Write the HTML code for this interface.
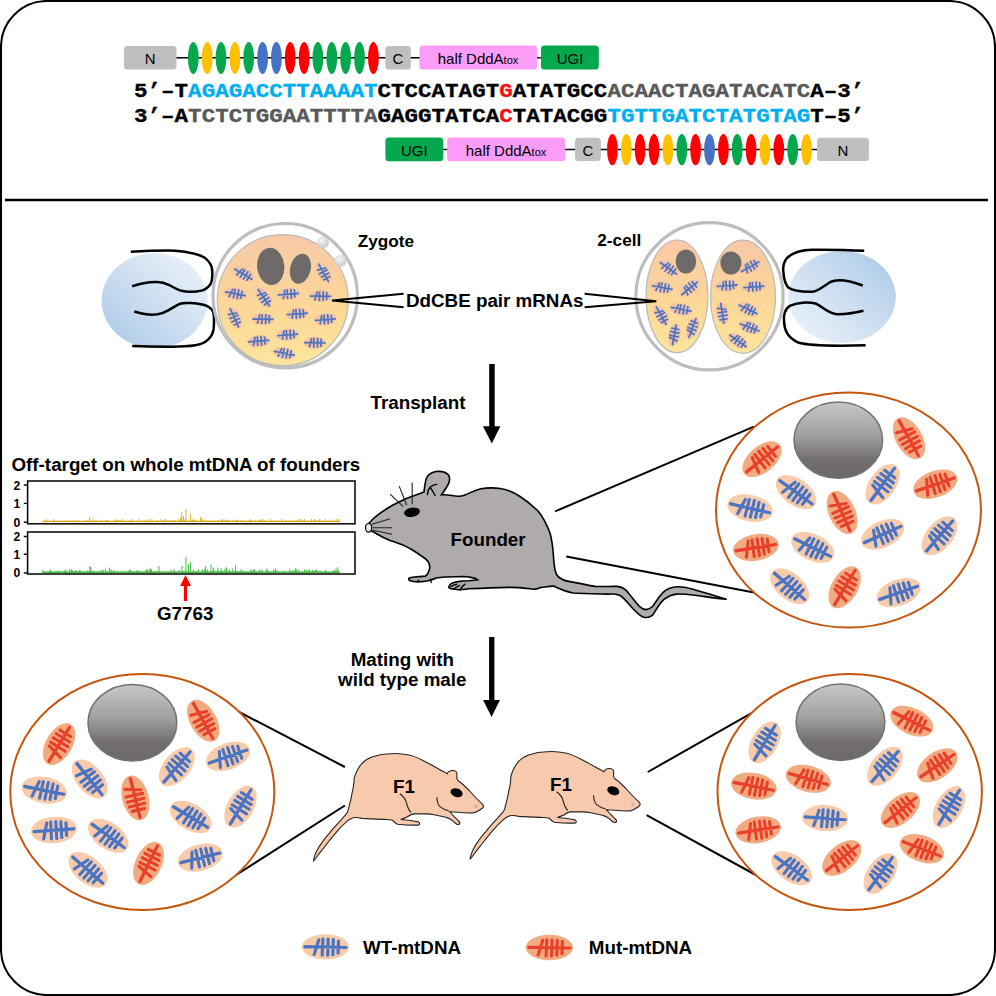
<!DOCTYPE html>
<html><head><meta charset="utf-8"><title>DdCBE mtDNA editing</title>
<style>
html,body{margin:0;padding:0;background:#fff;width:996px;height:996px;overflow:hidden}
svg{display:block}
text{font-family:"Liberation Sans",sans-serif}
.b{font-weight:bold}
.dna{font-family:"Liberation Mono",monospace;font-weight:bold;font-size:22.55px;stroke-width:0.35px}
.lbl{font-weight:bold;font-size:18.8px}
</style></head>
<body>
<svg width="996" height="996" viewBox="0 0 996 996">
<defs>
  <linearGradient id="gNuc" x1="0" y1="0" x2="0" y2="1">
    <stop offset="0" stop-color="#c8c7c7"/>
    <stop offset="0.45" stop-color="#a19e9e"/>
    <stop offset="0.75" stop-color="#736f6f"/>
    <stop offset="1" stop-color="#6d6969"/>
  </linearGradient>
  <linearGradient id="gCyto" x1="0" y1="0" x2="0" y2="1">
    <stop offset="0" stop-color="#f8c8a6"/>
    <stop offset="0.55" stop-color="#fbd898"/>
    <stop offset="1" stop-color="#fde59c"/>
  </linearGradient>
  <linearGradient id="gPipL" x1="0" y1="1" x2="1" y2="0">
    <stop offset="0" stop-color="#a9c7e7"/>
    <stop offset="1" stop-color="#f1f6fb"/>
  </linearGradient>
  <linearGradient id="gPipR" x1="0" y1="1" x2="1" y2="0">
    <stop offset="0" stop-color="#f1f6fb"/>
    <stop offset="1" stop-color="#a9c7e7"/>
  </linearGradient>
  <radialGradient id="gPolar" cx="0.4" cy="0.35" r="0.7">
    <stop offset="0" stop-color="#f6f6f6"/>
    <stop offset="1" stop-color="#c6c6c6"/>
  </radialGradient>
  <path id="fb" d="M-20,-0.3 L20,0.6 M-20,0 L-6,0.2 M-11,8 L-6.5,-7.5 M-2.5,-8.2 L-3.2,8.8 M2.6,-8.2 L2.1,8.8 M7.6,-7.6 L7.2,8.2 M12.6,-6.2 L12.2,6.5" fill="none" stroke-linecap="round"/>
  <g id="wt"><ellipse rx="23" ry="13.2" fill="#f8cbab"/><use href="#fb" stroke="#4a74c2" stroke-width="3.1"/></g>
  <g id="mut"><ellipse rx="23" ry="13.2" fill="#f2aa80"/><use href="#fb" stroke="#e8402a" stroke-width="3.1"/></g>
  <path id="fbs" d="M-20,0 L20,0.5 M-11,8 L-6.5,-8 M-1.8,-8.5 L-2.4,8.5 M5.6,-8.5 L5.2,8.5 M12.6,-7 L12.2,7" fill="none" stroke-linecap="round"/>
  <g id="zw"><ellipse rx="22.5" ry="12" fill="#f6c2a6"/><use href="#fbs" stroke="#4a74c2" stroke-width="3.5"/></g>
  <path id="f1" d="M354.1,778.6 C357,768 363,760 372,757 C379,754.5 385,753.6 391,753.7 C398,752.8 404,754 410.3,755.3 C417,757 424,761 429.6,764.1 C436,767.5 442,771 447.3,773.7 C448,771.5 450,770.3 453.7,770.5 C456,771 457.5,772.5 456.9,775 L456.9,778.6 C457.5,780 458,780.5 458.5,781 C463,784 467,788 471.4,793 C475,797 479,801 482.6,804.3 C484,806 483.5,807.5 482,808.5 C479,810.5 477,812 474.6,812.6 C469,813.4 464,812.9 458.5,812.3 C455,811.9 452,811.7 449.5,811.7 C451,813 452,814.3 453,815.5 C454.5,817 456,818.5 457.2,819.7 C458.5,821 459.7,821.8 459.8,822.6 C460,823.6 459.5,824.3 458.7,824.4 C457.8,824.5 457,824.3 456.5,824 C455,823 454,822 453,821.1 C452,820.3 451.2,819.6 450.2,819 C449,818.3 448,818 446.7,817.6 C445,817 443,816.6 441.1,816.2 C438.5,815.6 436.5,815.2 434.1,814.8 C431.5,814.4 429,814.1 426.4,813.9 C421,813.9 417,813.9 413.5,813.9 C410,814.5 408.5,816 407.1,817.1 C405,818 403,818.8 400.7,819.5 C406,820 412,820.6 418.4,821.9 C420,823 420,824.5 418.4,825.1 C411,825.3 404,825 397.5,824.3 C395,823 393.7,821.5 392.7,820.3 C390.5,819.8 388.5,819.6 386.2,819.5 C378,819 370,818.8 362.1,818.4 C358.5,817.6 355.5,817.4 353.2,817.7 C351,818.5 349,819.6 347.2,821.2 C343,825 340,828 337.1,831.3 C333,836 330.5,839 328.1,842.3 C325,846.5 322.5,849.5 320.1,852.4 C317.5,856 315.5,859 313.5,860.9 C313.8,857.5 315,855 316,852.4 C318,848 320,845 322.1,842.3 C325,838 327.5,835.5 330.1,832.3 C333,828.5 335.5,826 338.1,823.2 C341,820 343.8,817 346.2,814.2 C347.3,812.8 347.9,811.5 348.2,810.2 C349,806 350,803 350.7,800.1 C351.5,796 352.2,792 353.2,788.1 C353.8,784 354.2,781 354.1,778.6 Z"/>
  <g id="f1g">
    <use href="#f1" fill="#f7caae" stroke="#222" stroke-width="1.1"/>
    <path d="M399.9,793.8 C403,796 405.5,799 406.5,803 C407.5,807 408.5,810 411,812.5 M436.9,797.2 C437,801.5 437.8,804.5 440,806.6 C442.5,808.8 445.5,810 448.6,810.8" fill="none" stroke="#222" stroke-width="1.1"/>
    <ellipse cx="456.6" cy="792.8" rx="6.3" ry="4.2" transform="rotate(20 456.6 792.8)" fill="#000"/>
    <path d="M474.5,806 l2.5,-1.2 M475,807.6 l2.7,-0.8" stroke="#888" stroke-width="0.6"/>
  </g>
</defs>

<!-- frame -->
<rect x="1" y="1" width="994" height="994" rx="46" ry="46" fill="#fff" stroke="#000" stroke-width="2.1"/>
<line x1="5" y1="200" x2="988" y2="200" stroke="#000" stroke-width="2.6"/>

<!-- ===== TOP CONSTRUCTS ===== -->
<g id="constructTop">
  <line x1="176" y1="57.8" x2="420" y2="57.8" stroke="#000" stroke-width="1.4"/>
  <line x1="536" y1="57.8" x2="542" y2="57.8" stroke="#000" stroke-width="1.4"/>
  <rect x="124" y="46" width="52.5" height="23.6" rx="3.5" fill="#bfbfbf"/>
  <text x="150.2" y="64.3" font-size="15" text-anchor="middle">N</text>
  <g><ellipse cx="193.3" cy="57.9" rx="5.4" ry="16" fill="#06a84e"/><ellipse cx="207.2" cy="57.9" rx="5.4" ry="16" fill="#ffc000"/><ellipse cx="221.0" cy="57.9" rx="5.4" ry="16" fill="#06a84e"/><ellipse cx="234.9" cy="57.9" rx="5.4" ry="16" fill="#ffc000"/><ellipse cx="248.7" cy="57.9" rx="5.4" ry="16" fill="#06a84e"/><ellipse cx="262.6" cy="57.9" rx="5.4" ry="16" fill="#4472c4"/><ellipse cx="276.4" cy="57.9" rx="5.4" ry="16" fill="#4472c4"/><ellipse cx="290.2" cy="57.9" rx="5.4" ry="16" fill="#ff0000"/><ellipse cx="304.1" cy="57.9" rx="5.4" ry="16" fill="#ff0000"/><ellipse cx="317.9" cy="57.9" rx="5.4" ry="16" fill="#06a84e"/><ellipse cx="331.8" cy="57.9" rx="5.4" ry="16" fill="#06a84e"/><ellipse cx="345.6" cy="57.9" rx="5.4" ry="16" fill="#06a84e"/><ellipse cx="359.5" cy="57.9" rx="5.4" ry="16" fill="#06a84e"/><ellipse cx="373.4" cy="57.9" rx="5.4" ry="16" fill="#ff0000"/></g>
  <rect x="385.3" y="46" width="25.5" height="23.6" rx="3.5" fill="#bfbfbf"/>
  <text x="398" y="64.3" font-size="15" text-anchor="middle">C</text>
  <rect x="419.5" y="45.6" width="117.6" height="24" rx="3.5" fill="#fb9df8"/>
  <text x="478" y="64.2" font-size="15" text-anchor="middle">half DddA<tspan font-size="11">tox</tspan></text>
  <rect x="541" y="45.6" width="57.8" height="24" rx="3.5" fill="#06a84e"/>
  <text x="570" y="64.3" font-size="15" text-anchor="middle">UGI</text>
</g>

<text class="dna" x="134" y="0" transform="translate(0,96.7) scale(1,0.91)"><tspan fill="#000" stroke="#000">5’–T</tspan><tspan fill="#00aeef" stroke="#00aeef">AGAGACCTTAAAAT</tspan><tspan fill="#000" stroke="#000">CTCCATAGT</tspan><tspan fill="#f20f0f" stroke="#f20f0f">G</tspan><tspan fill="#000" stroke="#000">ATATGCC</tspan><tspan fill="#595959" stroke="#595959">ACAACTAGATACATC</tspan><tspan fill="#000" stroke="#000">A–3’</tspan></text>
<text class="dna" x="134" y="0" transform="translate(0,122) scale(1,0.91)"><tspan fill="#000" stroke="#000">3’–A</tspan><tspan fill="#595959" stroke="#595959">TCTCTGGAATTTTA</tspan><tspan fill="#000" stroke="#000">GAGGTATCA</tspan><tspan fill="#f20f0f" stroke="#f20f0f">C</tspan><tspan fill="#000" stroke="#000">TATACGG</tspan><tspan fill="#00aeef" stroke="#00aeef">TGTTGATCTATGTAG</tspan><tspan fill="#000" stroke="#000">T–5’</tspan></text>

<g id="constructBot">
  <line x1="443" y1="149.5" x2="448" y2="149.5" stroke="#000" stroke-width="1.4"/>
  <line x1="565" y1="149.5" x2="818" y2="149.5" stroke="#000" stroke-width="1.4"/>
  <rect x="385.4" y="137.4" width="57.9" height="23.8" rx="3.5" fill="#06a84e"/>
  <text x="414.3" y="155.9" font-size="15" text-anchor="middle">UGI</text>
  <rect x="447.1" y="137.4" width="118.2" height="23.8" rx="3.5" fill="#fb9df8"/>
  <text x="506" y="155.9" font-size="15" text-anchor="middle">half DddA<tspan font-size="11">tox</tspan></text>
  <rect x="575" y="137.8" width="25.8" height="23.2" rx="3.5" fill="#bfbfbf"/>
  <text x="588" y="155.9" font-size="15" text-anchor="middle">C</text>
  <g><ellipse cx="612.4" cy="149.6" rx="5.4" ry="15.7" fill="#ff0000"/><ellipse cx="626.3" cy="149.6" rx="5.4" ry="15.7" fill="#ffc000"/><ellipse cx="640.1" cy="149.6" rx="5.4" ry="15.7" fill="#ff0000"/><ellipse cx="654.0" cy="149.6" rx="5.4" ry="15.7" fill="#ff0000"/><ellipse cx="667.9" cy="149.6" rx="5.4" ry="15.7" fill="#ffc000"/><ellipse cx="681.8" cy="149.6" rx="5.4" ry="15.7" fill="#06a84e"/><ellipse cx="695.6" cy="149.6" rx="5.4" ry="15.7" fill="#ff0000"/><ellipse cx="709.5" cy="149.6" rx="5.4" ry="15.7" fill="#4472c4"/><ellipse cx="723.4" cy="149.6" rx="5.4" ry="15.7" fill="#ff0000"/><ellipse cx="737.2" cy="149.6" rx="5.4" ry="15.7" fill="#06a84e"/><ellipse cx="751.1" cy="149.6" rx="5.4" ry="15.7" fill="#ff0000"/><ellipse cx="765.0" cy="149.6" rx="5.4" ry="15.7" fill="#ffc000"/><ellipse cx="778.8" cy="149.6" rx="5.4" ry="15.7" fill="#ff0000"/><ellipse cx="792.7" cy="149.6" rx="5.4" ry="15.7" fill="#06a84e"/><ellipse cx="806.6" cy="149.6" rx="5.4" ry="15.7" fill="#ffc000"/></g>
  <rect x="817" y="137.8" width="52" height="23.2" rx="3.5" fill="#bfbfbf"/>
  <text x="843" y="155.9" font-size="15" text-anchor="middle">N</text>
</g>

<!-- ===== ZYGOTE ===== -->
<ellipse cx="154.6" cy="300.6" rx="53" ry="47.5" fill="url(#gPipL)"/>
<path d="M130.8,251.8 C145,250.8 160,250.4 168.7,250.4 C178,250.6 184,251.3 188.4,252.5 C197,254 202,256 205.3,258.1 C210,262 212.5,267 212.3,272.2 C212.5,278 212,281 210.9,283.4 C209,287 206,289 202.5,290.4 C197,291.8 192,292 188.4,291.8 C185,291.6 182.5,291.2 180,290.4 C175,288.5 172,286.5 168.7,284.8 C165,283 161,282 157.5,282 C153,281.8 150,282 146.2,282.7 C141,283.5 136,285 132.2,286.2" fill="none" stroke="#000" stroke-width="2.5"/>
<path d="M134.3,311.5 C138,312.5 142,313.7 146.2,314.3 C150,314.8 154,314.8 157.5,314.3 C162,313.5 165.5,312 168.7,310.1 C172,308 176,305.5 180,303.8 C184,302.5 188,302.8 191.2,303.1 C197,303.6 203,304.2 206.7,305.9 C211,308 213.5,311 213.7,314.3 C214.2,318 214,324 213.7,328.4 C213.2,333 211,337 208.1,339.6 C205,342.5 200,344.5 195.4,345.3 C187,346.6 178,346.8 168.7,346.7 C157,346.6 145,346.4 132.2,346" fill="none" stroke="#000" stroke-width="2.5"/>
<circle cx="285.2" cy="295.7" r="72.2" fill="#fff" stroke="#bdbdbd" stroke-width="3.2"/>
<circle cx="282.8" cy="300.2" r="65.5" fill="url(#gCyto)" stroke="#b9b9b9" stroke-width="1.2"/>
<circle cx="322.9" cy="242.3" r="6" fill="url(#gPolar)"/>
<circle cx="340.6" cy="260.8" r="6" fill="url(#gPolar)"/>
<ellipse cx="270.7" cy="266.4" rx="13.6" ry="18.6" transform="rotate(-6 270.7 266.4)" fill="#6f6a6a"/>
<ellipse cx="300.4" cy="268.8" rx="10.2" ry="15.3" transform="rotate(14 300.4 268.8)" fill="#6f6a6a"/>
<g><use href="#zw" transform="translate(243.4,274.1) rotate(30) scale(0.500,0.500)"/><use href="#zw" transform="translate(323.7,272.8) rotate(60) scale(0.500,0.500)"/><use href="#zw" transform="translate(235.3,293.7) rotate(10) scale(0.500,0.500)"/><use href="#zw" transform="translate(263.9,297.7) rotate(55) scale(0.500,0.500)"/><use href="#zw" transform="translate(288.4,294.0) rotate(-5) scale(0.500,0.500)"/><use href="#zw" transform="translate(320.5,296.1) rotate(0) scale(0.500,0.500)"/><use href="#zw" transform="translate(234.5,317.8) rotate(65) scale(0.500,0.500)"/><use href="#zw" transform="translate(263.0,319.1) rotate(0) scale(0.500,0.500)"/><use href="#zw" transform="translate(297.2,313.8) rotate(-5) scale(0.500,0.500)"/><use href="#zw" transform="translate(325.3,319.4) rotate(-5) scale(0.500,0.500)"/><use href="#zw" transform="translate(258.6,341.1) rotate(-5) scale(0.500,0.500)"/><use href="#zw" transform="translate(287.6,334.7) rotate(-5) scale(0.500,0.500)"/><use href="#zw" transform="translate(314.9,342.7) rotate(0) scale(0.500,0.500)"/><use href="#zw" transform="translate(284.3,353.2) rotate(10) scale(0.500,0.500)"/></g>

<!-- two-cell -->
<circle cx="709.5" cy="296.3" r="73.6" fill="#fff" stroke="#bdbdbd" stroke-width="3.2"/>
<ellipse cx="677" cy="296.3" rx="31" ry="56.3" fill="url(#gCyto)" stroke="#b9b9b9" stroke-width="1.2"/>
<ellipse cx="743" cy="296.7" rx="32.5" ry="56.6" fill="url(#gCyto)" stroke="#b9b9b9" stroke-width="1.2"/>
<ellipse cx="685.9" cy="261.4" rx="10.3" ry="12" fill="#6f6a6a"/>
<ellipse cx="730.9" cy="263" rx="10.5" ry="11.5" fill="#6f6a6a"/>
<g><use href="#zw" transform="translate(668.6,268.2) rotate(35) scale(0.500,0.500)"/><use href="#zw" transform="translate(662.1,287.5) rotate(10) scale(0.500,0.500)"/><use href="#zw" transform="translate(689.4,288.3) rotate(-40) scale(0.500,0.500)"/><use href="#zw" transform="translate(681.1,309.2) rotate(10) scale(0.500,0.500)"/><use href="#zw" transform="translate(661.3,315.6) rotate(60) scale(0.500,0.500)"/><use href="#zw" transform="translate(674.2,334.9) rotate(-80) scale(0.500,0.500)"/><use href="#zw" transform="translate(692.3,328.0) rotate(-70) scale(0.500,0.500)"/><use href="#zw" transform="translate(750.2,266.6) rotate(-30) scale(0.500,0.500)"/><use href="#zw" transform="translate(727.2,285.5) rotate(-5) scale(0.500,0.500)"/><use href="#zw" transform="translate(753.7,286.7) rotate(-5) scale(0.500,0.500)"/><use href="#zw" transform="translate(722.4,313.2) rotate(80) scale(0.500,0.500)"/><use href="#zw" transform="translate(748.1,309.2) rotate(25) scale(0.500,0.500)"/><use href="#zw" transform="translate(749.7,327.3) rotate(20) scale(0.500,0.500)"/><use href="#zw" transform="translate(738.0,340.8) rotate(35) scale(0.500,0.500)"/></g>

<ellipse cx="842" cy="297" rx="53.8" ry="46" fill="url(#gPipR)"/>
<path d="M864.2,250.8 C850,250 830,249.6 812.2,249.7 C800,250 792,253 787,258 C783,263 782.8,268 783.4,272.2 C783.8,278 785,284 788.3,287.6 C793,291 800,292 812.2,291.8 C818,291.5 822,287 830.4,282 C838,278.5 848,280 862.8,285.5" fill="none" stroke="#000" stroke-width="2.5"/>
<path d="M863.5,310.8 C852,313.5 845,314.5 837.5,314.3 C828,313.8 823,307 816.4,303.8 C808,301.5 797,302.5 789.7,305.9 C785,309 783.5,315 784,321.4 C784.5,330 787,337 798,342.5 C810,346 840,346 865.6,345.3" fill="none" stroke="#000" stroke-width="2.5"/>

<!-- labels & needles -->
<text class="lbl" x="357.8" y="246.5" style="font-size:17.2px">Zygote</text>
<text class="lbl" x="597.3" y="245.8" style="font-size:17.2px">2-cell</text>
<text class="lbl" x="406" y="307.3">DdCBE pair mRNAs</text>
<path d="M403.6,293.7 L332,300.5 L403.6,307.3" fill="none" stroke="#000" stroke-width="2"/>
<path d="M584.6,293.7 L656.3,301.2 L584.6,307.3" fill="none" stroke="#000" stroke-width="2"/>

<!-- ===== MIDDLE ===== -->
<rect x="489.2" y="364" width="5.5" height="63" fill="#000"/>
<path d="M483,426.3 L500.4,426.3 L491.8,443.5 Z" fill="#000"/>
<text class="lbl" x="370.5" y="409">Transplant</text>

<text class="lbl" x="11.5" y="470.8">Off-target on whole mtDNA of founders</text>
<g><path d="M42.8,521.3 H339.6" stroke="#d9a514" stroke-width="1.3"/><path d="M42.8,572.1 H339.6" stroke="#2fb52f" stroke-width="1.3"/><path d="M42.8,521.8 v-0.9 M44.0,521.8 v-0.9 M44.8,521.8 v-0.8 M45.6,521.8 v-0.9 M46.4,521.8 v-2.5 M47.6,521.8 v-0.8 M49.6,521.8 v-1.0 M50.8,521.8 v-0.8 M52.8,521.8 v-0.8 M53.6,521.8 v-2.7 M54.4,521.8 v-1.2 M56.4,521.8 v-0.8 M57.6,521.8 v-0.8 M58.8,521.8 v-0.9 M60.0,521.8 v-1.1 M61.6,521.8 v-1.2 M62.8,521.8 v-0.8 M64.0,521.8 v-0.9 M64.8,521.8 v-1.2 M66.0,521.8 v-1.1 M68.0,521.8 v-1.8 M70.0,521.8 v-1.2 M72.0,521.8 v-0.9 M73.2,521.8 v-1.9 M74.4,521.8 v-0.8 M76.0,521.8 v-1.1 M77.6,521.8 v-1.7 M79.2,521.8 v-1.3 M80.0,521.8 v-0.8 M82.0,521.8 v-0.8 M83.6,521.8 v-0.8 M85.6,521.8 v-1.0 M86.4,521.8 v-1.8 M88.0,521.8 v-0.9 M89.6,521.8 v-1.3 M91.6,521.8 v-0.8 M92.4,521.8 v-2.7 M94.4,521.8 v-1.5 M95.2,521.8 v-0.8 M96.8,521.8 v-1.4 M98.8,521.8 v-0.9 M100.8,521.8 v-2.3 M102.4,521.8 v-0.8 M104.4,521.8 v-0.9 M105.2,521.8 v-1.1 M106.4,521.8 v-1.8 M107.6,521.8 v-1.7 M109.6,521.8 v-0.9 M111.6,521.8 v-0.8 M113.6,521.8 v-0.9 M115.2,521.8 v-2.3 M117.2,521.8 v-2.2 M118.8,521.8 v-1.6 M120.4,521.8 v-1.5 M122.4,521.8 v-2.7 M123.6,521.8 v-0.8 M124.8,521.8 v-0.8 M126.0,521.8 v-0.8 M127.2,521.8 v-0.8 M128.0,521.8 v-0.8 M129.6,521.8 v-1.3 M131.2,521.8 v-2.7 M132.0,521.8 v-1.0 M134.0,521.8 v-0.9 M136.0,521.8 v-0.8 M138.0,521.8 v-0.8 M138.8,521.8 v-2.9 M140.8,521.8 v-0.8 M142.4,521.8 v-1.3 M143.2,521.8 v-0.8 M144.4,521.8 v-1.1 M146.0,521.8 v-1.3 M146.8,521.8 v-2.3 M148.8,521.8 v-0.8 M150.4,521.8 v-2.7 M152.0,521.8 v-1.0 M152.8,521.8 v-2.1 M154.8,521.8 v-1.0 M156.4,521.8 v-0.8 M157.2,521.8 v-1.7 M158.8,521.8 v-1.0 M160.0,521.8 v-1.1 M161.2,521.8 v-2.7 M162.8,521.8 v-0.8 M163.6,521.8 v-1.8 M165.2,521.8 v-2.9 M166.0,521.8 v-1.5 M167.6,521.8 v-1.1 M168.8,521.8 v-0.9 M170.0,521.8 v-1.1 M171.6,521.8 v-1.4 M172.8,521.8 v-2.0 M174.8,521.8 v-1.7 M176.0,521.8 v-0.8 M178.0,521.8 v-0.9 M178.8,521.8 v-2.9 M180.4,521.8 v-1.0 M181.6,521.8 v-1.5 M183.2,521.8 v-1.0 M184.8,521.8 v-2.7 M186.4,521.8 v-0.8 M187.2,521.8 v-0.8 M188.4,521.8 v-0.9 M190.4,521.8 v-1.3 M191.2,521.8 v-1.0 M192.8,521.8 v-1.9 M193.6,521.8 v-2.1 M194.4,521.8 v-2.5 M195.6,521.8 v-1.0 M196.8,521.8 v-1.0 M198.4,521.8 v-0.8 M200.4,521.8 v-1.0 M201.2,521.8 v-1.6 M202.4,521.8 v-3.0 M203.2,521.8 v-0.8 M205.2,521.8 v-2.0 M206.4,521.8 v-1.3 M208.4,521.8 v-1.4 M210.0,521.8 v-0.8 M211.2,521.8 v-0.8 M212.0,521.8 v-1.1 M213.2,521.8 v-1.0 M214.4,521.8 v-2.0 M215.6,521.8 v-0.8 M216.8,521.8 v-0.9 M218.0,521.8 v-1.8 M219.6,521.8 v-0.8 M221.6,521.8 v-2.1 M222.4,521.8 v-2.5 M224.0,521.8 v-2.4 M226.0,521.8 v-2.0 M227.2,521.8 v-1.1 M228.0,521.8 v-2.3 M229.2,521.8 v-1.3 M230.4,521.8 v-0.8 M232.4,521.8 v-1.3 M233.2,521.8 v-1.2 M234.8,521.8 v-1.5 M236.8,521.8 v-1.9 M237.6,521.8 v-2.3 M238.4,521.8 v-0.8 M240.0,521.8 v-0.8 M240.8,521.8 v-1.1 M241.6,521.8 v-1.8 M242.4,521.8 v-1.0 M243.6,521.8 v-1.5 M245.6,521.8 v-1.1 M247.6,521.8 v-1.1 M248.8,521.8 v-1.6 M250.4,521.8 v-2.5 M251.6,521.8 v-2.1 M252.8,521.8 v-1.0 M254.8,521.8 v-1.0 M255.6,521.8 v-1.5 M257.6,521.8 v-0.8 M259.2,521.8 v-1.9 M260.4,521.8 v-2.6 M262.0,521.8 v-0.8 M263.2,521.8 v-2.8 M264.4,521.8 v-1.7 M265.2,521.8 v-0.9 M267.2,521.8 v-0.8 M268.4,521.8 v-0.8 M270.4,521.8 v-3.0 M272.4,521.8 v-0.9 M273.6,521.8 v-0.9 M274.4,521.8 v-1.6 M275.2,521.8 v-0.9 M277.2,521.8 v-1.0 M278.0,521.8 v-0.9 M279.6,521.8 v-1.1 M280.4,521.8 v-0.8 M281.6,521.8 v-2.8 M282.4,521.8 v-0.8 M284.0,521.8 v-0.8 M285.2,521.8 v-0.8 M286.4,521.8 v-2.0 M288.0,521.8 v-0.9 M290.0,521.8 v-1.6 M290.8,521.8 v-0.8 M292.0,521.8 v-1.0 M292.8,521.8 v-0.8 M293.6,521.8 v-1.4 M295.2,521.8 v-0.8 M296.4,521.8 v-0.8 M297.2,521.8 v-1.0 M298.8,521.8 v-3.0 M300.8,521.8 v-2.6 M302.4,521.8 v-1.3 M303.2,521.8 v-1.1 M304.4,521.8 v-2.6 M305.6,521.8 v-0.8 M306.8,521.8 v-0.8 M308.4,521.8 v-1.3 M309.6,521.8 v-0.9 M310.8,521.8 v-0.8 M311.6,521.8 v-3.0 M312.4,521.8 v-0.8 M313.6,521.8 v-1.1 M314.8,521.8 v-2.6 M315.6,521.8 v-1.4 M317.6,521.8 v-1.4 M319.6,521.8 v-2.8 M321.2,521.8 v-1.5 M322.4,521.8 v-0.9 M323.6,521.8 v-0.9 M325.2,521.8 v-2.9 M326.4,521.8 v-0.8 M328.0,521.8 v-1.0 M328.8,521.8 v-0.8 M330.8,521.8 v-2.3 M332.4,521.8 v-1.3 M334.0,521.8 v-0.8 M335.2,521.8 v-0.8 M337.2,521.8 v-0.8 M338.8,521.8 v-2.8 M181.7,521.8 V512.2 M186.0,521.8 V509.1 M190.6,521.8 V514.2 M200.5,521.8 V517.0 M89.7,521.8 V517.0 M336.2,521.8 V518.7 M183.5,521.8 V516.0 M180.5,521.8 V518.0" stroke="#d9a514" stroke-width="0.9" fill="none"/><path d="M42.8,572.6 v-0.8 M44.4,572.6 v-0.8 M45.6,572.6 v-0.8 M47.6,572.6 v-0.8 M49.2,572.6 v-1.2 M50.4,572.6 v-0.8 M51.2,572.6 v-0.8 M52.0,572.6 v-0.8 M52.8,572.6 v-1.0 M54.4,572.6 v-0.9 M55.6,572.6 v-0.8 M56.8,572.6 v-1.7 M58.8,572.6 v-2.1 M60.8,572.6 v-0.8 M62.0,572.6 v-0.8 M64.0,572.6 v-2.0 M65.2,572.6 v-3.1 M66.0,572.6 v-2.5 M67.2,572.6 v-0.8 M68.0,572.6 v-0.8 M69.6,572.6 v-3.5 M71.6,572.6 v-2.6 M72.4,572.6 v-1.5 M73.6,572.6 v-1.2 M74.4,572.6 v-1.1 M75.2,572.6 v-2.1 M76.0,572.6 v-1.7 M76.8,572.6 v-2.0 M78.8,572.6 v-0.8 M79.6,572.6 v-2.6 M80.8,572.6 v-2.0 M82.0,572.6 v-0.8 M84.0,572.6 v-1.2 M86.0,572.6 v-0.8 M87.6,572.6 v-2.2 M88.8,572.6 v-0.8 M90.0,572.6 v-0.9 M91.6,572.6 v-1.5 M92.8,572.6 v-0.8 M93.6,572.6 v-1.1 M94.4,572.6 v-1.8 M96.4,572.6 v-0.9 M98.0,572.6 v-1.1 M100.0,572.6 v-2.2 M101.2,572.6 v-0.9 M102.0,572.6 v-3.3 M102.8,572.6 v-0.9 M103.6,572.6 v-2.5 M105.6,572.6 v-3.7 M107.6,572.6 v-0.8 M108.8,572.6 v-0.8 M109.6,572.6 v-0.8 M111.2,572.6 v-3.4 M112.4,572.6 v-1.5 M114.0,572.6 v-2.9 M115.6,572.6 v-0.8 M117.6,572.6 v-1.0 M118.8,572.6 v-0.8 M120.8,572.6 v-1.7 M122.8,572.6 v-0.9 M124.0,572.6 v-1.0 M126.0,572.6 v-0.9 M127.6,572.6 v-0.8 M129.2,572.6 v-2.6 M130.0,572.6 v-3.3 M131.2,572.6 v-1.9 M132.8,572.6 v-0.8 M133.6,572.6 v-1.0 M134.4,572.6 v-0.9 M136.4,572.6 v-2.1 M137.2,572.6 v-0.9 M138.0,572.6 v-2.5 M139.6,572.6 v-1.6 M140.8,572.6 v-0.8 M142.4,572.6 v-1.0 M144.0,572.6 v-0.8 M145.6,572.6 v-2.3 M147.6,572.6 v-2.9 M149.6,572.6 v-3.1 M150.8,572.6 v-1.9 M151.6,572.6 v-3.2 M153.6,572.6 v-1.1 M154.8,572.6 v-1.6 M156.4,572.6 v-1.1 M157.6,572.6 v-0.8 M159.6,572.6 v-0.9 M161.2,572.6 v-0.9 M162.8,572.6 v-1.0 M164.0,572.6 v-0.9 M166.0,572.6 v-0.8 M167.2,572.6 v-0.8 M169.2,572.6 v-1.3 M171.2,572.6 v-3.0 M173.2,572.6 v-1.0 M174.4,572.6 v-0.8 M175.6,572.6 v-0.9 M176.4,572.6 v-0.9 M178.0,572.6 v-0.9 M179.2,572.6 v-2.9 M181.2,572.6 v-1.0 M182.4,572.6 v-1.0 M184.0,572.6 v-2.1 M186.0,572.6 v-0.9 M187.6,572.6 v-0.8 M188.8,572.6 v-0.8 M190.0,572.6 v-1.0 M192.0,572.6 v-1.0 M193.6,572.6 v-2.6 M194.4,572.6 v-0.8 M196.4,572.6 v-1.9 M198.4,572.6 v-3.5 M200.4,572.6 v-0.8 M202.4,572.6 v-3.2 M204.4,572.6 v-3.6 M205.6,572.6 v-2.2 M206.8,572.6 v-0.8 M207.6,572.6 v-3.3 M209.6,572.6 v-0.8 M210.4,572.6 v-0.8 M211.6,572.6 v-0.8 M212.4,572.6 v-1.6 M214.0,572.6 v-3.5 M215.6,572.6 v-1.2 M217.6,572.6 v-1.8 M218.4,572.6 v-0.8 M220.0,572.6 v-1.2 M221.2,572.6 v-1.0 M222.4,572.6 v-2.3 M223.2,572.6 v-0.8 M224.8,572.6 v-3.8 M226.4,572.6 v-3.4 M227.6,572.6 v-1.1 M228.8,572.6 v-1.3 M229.6,572.6 v-3.5 M231.2,572.6 v-0.8 M232.4,572.6 v-1.2 M234.4,572.6 v-0.8 M235.6,572.6 v-1.7 M237.2,572.6 v-0.8 M238.0,572.6 v-1.8 M240.0,572.6 v-0.9 M242.0,572.6 v-0.8 M243.6,572.6 v-2.0 M244.4,572.6 v-0.8 M245.6,572.6 v-0.9 M246.8,572.6 v-0.8 M248.0,572.6 v-0.9 M249.6,572.6 v-0.8 M251.6,572.6 v-1.5 M252.8,572.6 v-1.1 M253.6,572.6 v-3.4 M254.8,572.6 v-3.2 M255.6,572.6 v-0.8 M256.8,572.6 v-1.0 M257.6,572.6 v-0.8 M259.6,572.6 v-3.0 M261.2,572.6 v-2.0 M262.0,572.6 v-3.2 M263.6,572.6 v-0.8 M265.6,572.6 v-0.8 M267.6,572.6 v-2.6 M269.2,572.6 v-1.1 M270.0,572.6 v-0.8 M271.6,572.6 v-0.8 M273.6,572.6 v-3.4 M274.4,572.6 v-1.3 M275.6,572.6 v-1.0 M277.2,572.6 v-2.5 M279.2,572.6 v-0.8 M281.2,572.6 v-0.8 M283.2,572.6 v-0.8 M284.8,572.6 v-2.0 M286.8,572.6 v-0.8 M288.8,572.6 v-0.8 M290.8,572.6 v-0.8 M291.6,572.6 v-1.1 M292.4,572.6 v-0.9 M293.2,572.6 v-3.0 M294.8,572.6 v-0.9 M296.4,572.6 v-3.4 M297.2,572.6 v-0.9 M298.8,572.6 v-3.2 M300.4,572.6 v-0.8 M301.2,572.6 v-0.8 M302.4,572.6 v-0.8 M304.4,572.6 v-3.4 M306.4,572.6 v-2.3 M308.4,572.6 v-2.4 M309.6,572.6 v-3.2 M310.8,572.6 v-0.8 M312.4,572.6 v-2.5 M313.6,572.6 v-1.5 M315.2,572.6 v-2.7 M317.2,572.6 v-0.9 M318.0,572.6 v-1.2 M320.0,572.6 v-2.1 M321.2,572.6 v-1.0 M322.0,572.6 v-1.1 M323.6,572.6 v-0.8 M325.6,572.6 v-2.9 M326.4,572.6 v-0.9 M327.2,572.6 v-0.8 M329.2,572.6 v-1.2 M331.2,572.6 v-0.8 M332.4,572.6 v-1.0 M333.6,572.6 v-2.1 M334.4,572.6 v-2.2 M336.0,572.6 v-0.9 M337.6,572.6 v-1.0 M339.2,572.6 v-0.8 M186.0,572.6 V556.9 M190.6,572.6 V562.0 M188.5,572.6 V564.2 M182.0,572.6 V566.0 M205.6,572.6 V566.0 M211.0,572.6 V564.2 M213.3,572.6 V567.5 M217.9,572.6 V567.5 M221.0,572.6 V568.3 M226.4,572.6 V567.3 M232.9,572.6 V568.3 M235.5,572.6 V565.4 M241.0,572.6 V569.0 M250.8,572.6 V569.0 M266.7,572.6 V568.8 M275.6,572.6 V568.3 M289.7,572.6 V569.0 M295.4,572.6 V568.3 M306.3,572.6 V570.0 M316.5,572.6 V569.8 M337.9,572.6 V567.1 M336.0,572.6 V568.5 M158.9,572.6 V566.0 M89.7,572.6 V566.0 M109.4,572.6 V567.7 M150.2,572.6 V568.2 M146.9,572.6 V569.0 M174.2,572.6 V569.0 M71.8,572.6 V569.0 M50.5,572.6 V569.4 M42.8,572.6 V570.0 M91.0,572.6 V567.0" stroke="#2fb52f" stroke-width="0.9" fill="none"/></g>
<rect x="27.6" y="481" width="327.4" height="42.8" fill="none" stroke="#111" stroke-width="1.6"/>
<rect x="27.6" y="532" width="327.4" height="42" fill="none" stroke="#111" stroke-width="1.6"/>
<path d="M23.8,485 H27.6 M23.8,503.4 H27.6 M23.8,522.3 H27.6 M23.8,536.5 H27.6 M23.8,554.3 H27.6 M23.8,573 H27.6" stroke="#111" stroke-width="1.4"/>
<g class="b" font-size="12.2" text-anchor="middle">
  <text x="16.9" y="489.8">2</text><text x="16.9" y="507.8">1</text><text x="16.9" y="526.8">0</text>
  <text x="16.9" y="541">2</text><text x="16.9" y="558.5">1</text><text x="16.9" y="577.3">0</text>
</g>
<rect x="183.9" y="585" width="3.1" height="16" fill="#f00"/>
<path d="M180.2,586 L191,586 L185.5,575 Z" fill="#f00"/>
<text class="lbl" x="157" y="620.2">G7763</text>

<!-- founder mouse -->
<path d="M366,527.5 C368,524 371,521 374,518 C380,513 386,509 392,505.5 C400,501 410,496.5 420,493.5 L424,492 C424.5,488 425,482 426.5,478 C428,474.5 431,472.5 436,471.5 C441,471 446,472 448.5,475 C450.5,478 449.5,483 447,486.5 C445.5,489 443.5,492 441.5,494.8 C445,494.5 449,495 452,495.5 C456,496.5 460,497 465,495 C470,493 474,490.5 480,489 C487,487.6 494,487.6 500,488.5 C507,489.5 514,492.5 520,496.5 C527,501 533,506 538,511 C543,517 547,525 550,533 C552,540 553,548 553.6,558 C554,565 555,571 556.5,574.5 C559,578.5 563,580.5 569.9,581.6 C580,583.4 590,585.5 595.2,586.4 C603,586.8 611,586.2 617.3,586.4 C622,587 626,589.5 628.4,593 C632,597 636,603 639.4,606.3 C642,608.7 644,609.6 646,609.6 C649,609.4 651,608 652.7,606.3 C656,602 659,596 663.7,591.9 C667,589 672,587 677,586.8 C684,586.6 690,588.5 694.6,589.7 C705,592.5 716,596 726.7,599.2 C716,598.5 705,596.5 694.6,595.2 C688,594.4 682,593.8 677,594.1 C671,594.6 667,597 663.7,599.6 C659,604 656,610 652.7,615.1 C650,617.3 647,618 643.8,617.3 C640,616 636,612 632.8,608.5 C628,603 624,597.5 619.5,595.2 C615,593.5 610,594.2 606.3,594.1 C595,594 584,593.5 573.1,593 C565,591.5 559,588.5 553.6,586.1 C548,586.3 544,587.2 541,587.4 C538,588.5 536,589.2 533.7,589.2 C531,589 528.5,588.5 526.5,588.4 C520,587.6 514,587.3 508.4,587.4 C502,587.5 496,587.7 490.4,587.9 C483,588.3 475,588.6 468.7,588.8 C464,589.4 461,589.7 459.6,589.7 C456,589.6 453.5,589.5 451.5,588.8 C449,588.2 448.3,587.4 448.8,586.6 C449.5,585 450.5,584 451.5,583.4 C454,582.3 456,581.8 457.8,581.6 C462,581 466,580.8 468.7,580.7 C472,580.5 475,580.3 477.7,579.8 C476,578.5 474,577.8 472.3,577.6 C469,577 466,576.6 463.3,576.5 C457,576.6 451,576.8 445.2,577 C441.5,577.3 438.5,577.6 436.1,578 C434,579 432.3,579.6 430.7,580.1 C429,580.6 427,581 425.3,581.2 C422,581.7 420,582 418,582 C415,581.7 412,581.2 410,580.7 C408.8,580 408.7,579 409,578.3 C410.5,577.6 412.5,577.2 414.5,577 C418,576.6 422,576.3 425.3,576.1 C426.5,575.2 427.5,574.3 428,573.4 C429,571 429.7,569 429.8,567.1 C429.5,565 429,563 428.3,561.7 C426,559 424,557.5 421.7,556.3 C418,553.5 414,551 410.8,549 C407,547 403.5,545 400.2,544 C396,542.5 393,541.5 390.1,540.5 C385,538.5 381,536.5 377,534 C373,531.5 369.5,530 366,527.5 Z" fill="#afabaa" stroke="#000" stroke-width="1.6"/>
<path d="M427.3,495.1 C427.8,491 429,488.5 430.3,487.1 C432.5,485 435,484.3 437.3,484.1 M430.6,487.8 C432.3,490.3 434,493 435.3,496" fill="none" stroke="#000" stroke-width="1.4"/>
<path d="M417,581.6 l1.9,-1.3 M430.7,579.3 L431.2,582.5 M451,586.8 C452.5,585.5 454.5,584.6 456.8,584.3 M454,589 C455.5,587.5 457.5,586.3 459.5,585.6 M460,589.8 C461.5,587.5 463,585.5 465,584.2" fill="none" stroke="#000" stroke-width="1.4" stroke-linecap="round"/>
<ellipse cx="412" cy="512.2" rx="8" ry="4.6" transform="rotate(-10 412 512.2)" fill="#000"/>
<ellipse cx="368.6" cy="527.8" rx="3.1" ry="4.4" fill="#e8e8e8" stroke="#000" stroke-width="1.2"/>
<path d="M372,524.2 L390.1,518.7 M373,527.8 L392.1,527.8 M373,530.3 L392.1,534.3 M403.2,506.7 L390.1,494.1 M406.7,505.2 L399.2,486.1 M412.2,504.2 L412.2,482.6" stroke="#222" stroke-width="1.1" fill="none"/>
<text class="lbl" x="450.5" y="546.3">Founder</text>

<!-- founder cell -->
<line x1="555.1" y1="511.4" x2="753.9" y2="426.6" stroke="#000" stroke-width="2"/>
<line x1="566.3" y1="556.6" x2="753.9" y2="592.6" stroke="#000" stroke-width="2"/>
<ellipse cx="848.5" cy="510" rx="132.5" ry="117.6" fill="#fff" stroke="#c4560f" stroke-width="2"/>
<ellipse cx="838.3" cy="440.1" rx="44.3" ry="38.2" fill="url(#gNuc)" stroke="#737373" stroke-width="1.5"/>
<g><use href="#mut" transform="translate(762.0,459.2) rotate(-40)"/><use href="#mut" transform="translate(909.0,438.2) rotate(60)"/><use href="#wt" transform="translate(796.1,492.1) rotate(35)"/><use href="#wt" transform="translate(882.6,484.2) rotate(-55)"/><use href="#mut" transform="translate(935.3,484.2) rotate(-20)"/><use href="#wt" transform="translate(750.1,508.1) rotate(12)"/><use href="#mut" transform="translate(842.1,512.5) rotate(65)"/><use href="#wt" transform="translate(882.6,534.3) rotate(-25)"/><use href="#wt" transform="translate(939.4,535.8) rotate(-50)"/><use href="#mut" transform="translate(755.9,547.4) rotate(-10)"/><use href="#wt" transform="translate(812.7,547.4) rotate(25)"/><use href="#wt" transform="translate(789.7,586.2) rotate(40)"/><use href="#mut" transform="translate(844.7,587.3) rotate(-60)"/><use href="#wt" transform="translate(898.6,592.6) rotate(-20)"/></g>

<!-- ===== BOTTOM ===== -->
<rect x="489.1" y="637" width="5.3" height="64" fill="#000"/>
<path d="M483.1,700 L499.9,700 L491.6,716.9 Z" fill="#000"/>
<text class="lbl" text-anchor="middle" x="402.3" y="666.1">Mating with</text>
<text class="lbl" text-anchor="middle" x="402.3" y="685.9">wild type male</text>

<line x1="235.3" y1="710" x2="344.9" y2="767" stroke="#000" stroke-width="2"/>
<line x1="235.3" y1="875.5" x2="344.9" y2="805.5" stroke="#000" stroke-width="2"/>
<ellipse cx="142.3" cy="792" rx="132" ry="118" fill="#fff" stroke="#c4560f" stroke-width="2"/>
<ellipse cx="132.4" cy="722.7" rx="44.4" ry="38.3" fill="url(#gNuc)" stroke="#737373" stroke-width="1.5"/>
<g><use href="#mut" transform="translate(59.1,744.1) rotate(-60)"/><use href="#mut" transform="translate(203.3,720.8) rotate(60)"/><use href="#wt" transform="translate(89.7,779.0) rotate(50)"/><use href="#wt" transform="translate(176.8,766.8) rotate(-50)"/><use href="#wt" transform="translate(228.0,756.3) rotate(-20)"/><use href="#wt" transform="translate(44.3,790.1) rotate(10)"/><use href="#mut" transform="translate(135.4,797.9) rotate(75)"/><use href="#wt" transform="translate(190.7,816.9) rotate(30)"/><use href="#wt" transform="translate(240.5,806.7) rotate(-60)"/><use href="#wt" transform="translate(53.9,830.0) rotate(-5)"/><use href="#wt" transform="translate(108.3,835.8) rotate(35)"/><use href="#wt" transform="translate(87.9,869.9) rotate(40)"/><use href="#mut" transform="translate(148.5,863.5) rotate(-65)"/><use href="#wt" transform="translate(200.3,857.6) rotate(-15)"/></g>

<line x1="647.8" y1="772" x2="756.8" y2="710.1" stroke="#000" stroke-width="2"/>
<line x1="646.6" y1="815.1" x2="756.8" y2="875.5" stroke="#000" stroke-width="2"/>
<ellipse cx="849.7" cy="792" rx="132.2" ry="118" fill="#fff" stroke="#c4560f" stroke-width="2"/>
<ellipse cx="840.5" cy="722.2" rx="44.4" ry="38.3" fill="url(#gNuc)" stroke="#737373" stroke-width="1.5"/>
<g><use href="#wt" transform="translate(764.6,742.4) rotate(-60)"/><use href="#mut" transform="translate(911.7,721.2) rotate(25)"/><use href="#wt" transform="translate(884.9,766.3) rotate(-50)"/><use href="#mut" transform="translate(937.3,765.4) rotate(-35)"/><use href="#mut" transform="translate(753.9,786.1) rotate(10)"/><use href="#mut" transform="translate(808.3,778.8) rotate(15)"/><use href="#wt" transform="translate(949.0,807.1) rotate(-60)"/><use href="#mut" transform="translate(900.4,810.0) rotate(-40)"/><use href="#wt" transform="translate(825.2,818.1) rotate(3)"/><use href="#mut" transform="translate(758.2,829.8) rotate(-10)"/><use href="#mut" transform="translate(921.9,848.7) rotate(20)"/><use href="#wt" transform="translate(791.7,868.2) rotate(35)"/><use href="#mut" transform="translate(841.8,858.0) rotate(-40)"/><use href="#wt" transform="translate(880.5,873.5) rotate(-55)"/></g>

<use href="#f1g"/>
<use href="#f1g" transform="translate(156.7,-2)"/>
<text class="lbl" x="393" y="792.7">F1</text>
<text class="lbl" x="550" y="791.2">F1</text>

<!-- legend -->
<use href="#wt" transform="translate(325.5,946.9) scale(1.03,0.96)"/>
<text class="lbl" x="363" y="953.9">WT-mtDNA</text>
<use href="#mut" transform="translate(549.4,947.5) scale(1.03,0.96)"/>
<text class="lbl" x="588.8" y="953.9">Mut-mtDNA</text>

</svg>
</body></html>
